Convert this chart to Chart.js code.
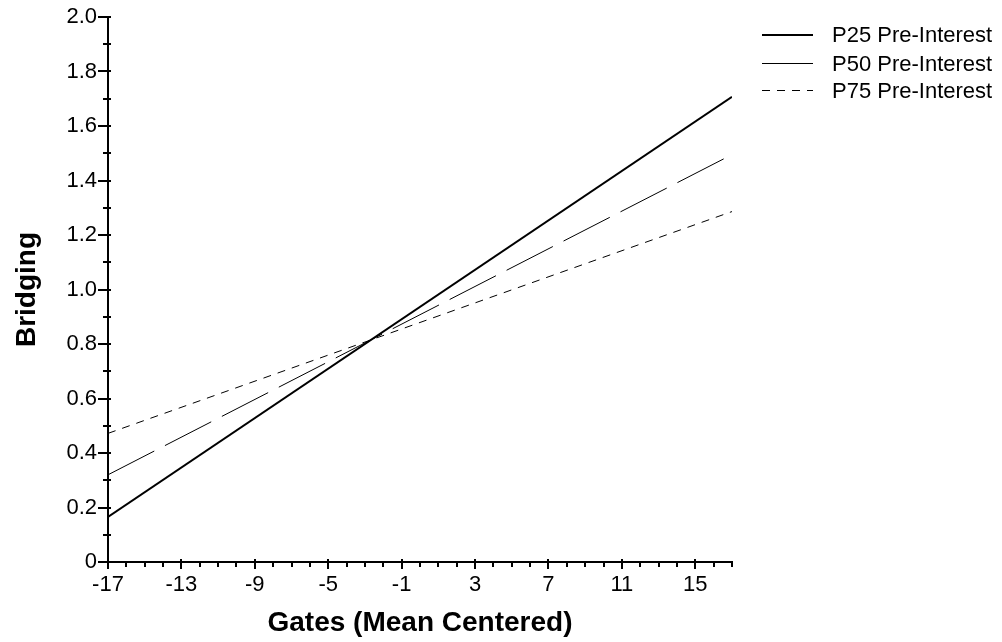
<!DOCTYPE html>
<html>
<head>
<meta charset="utf-8">
<script src="https://cdn.jsdelivr.net/npm/chart.js@4.4.1/dist/chart.umd.min.js"></script>
<style>
  html, body { margin: 0; padding: 0; background: #fff; }
  #wrap { width: 1002px; height: 642px; }
</style>
</head>
<body>
<div id="wrap"><canvas id="chart" width="1002" height="642"></canvas></div>
<script>
// Simple slopes of Bridging on Gates at three levels of pre-interest
const gates = [-17, 17];
const p25 = [0.165, 1.707];
const p50 = [0.320, 1.495];
const p75 = [0.472, 1.286];
const seriesNames = ['P25 Pre-Interest', 'P50 Pre-Interest', 'P75 Pre-Interest'];

const xTickValues = [-17, -13, -9, -5, -1, 3, 7, 11, 15];
const xTickLabels = ['-17', '-13', '-9', '-5', '-1', '3', '7', '11', '15'];
const yTickValues = [0, 0.2, 0.4, 0.6, 0.8, 1.0, 1.2, 1.4, 1.6, 1.8, 2.0];
const yTickLabels = ['0', '0.2', '0.4', '0.6', '0.8', '1.0', '1.2', '1.4', '1.6', '1.8', '2.0'];

const FONT = '"Liberation Sans", Arial, Helvetica, sans-serif';

const toPoints = ys => gates.map((g, i) => ({ x: g, y: ys[i] }));

// Minor tick marks every 1 on x and every 0.1 on y, longer marks at labelled values
const axisTicks = {
  id: 'axisTicks',
  afterDraw(chart) {
    const { ctx, chartArea, scales: { x, y } } = chart;
    ctx.save();
    ctx.strokeStyle = '#000';
    ctx.lineWidth = 2;
    ctx.lineCap = 'butt';
    ctx.beginPath();
    for (let k = 0; k <= 20; k++) {
      const v = k / 10;
      const py = Math.round(y.getPixelForValue(v));
      const major = k % 2 === 0;
      ctx.moveTo(chartArea.left - (major ? 10 : 5), py);
      ctx.lineTo(chartArea.left + 3, py);
    }
    for (let v = x.min; v <= x.max; v++) {
      const px = Math.round(x.getPixelForValue(v));
      const major = xTickValues.includes(v);
      ctx.moveTo(px, chartArea.bottom - (major ? 3 : 1));
      ctx.lineTo(px, chartArea.bottom + (major ? 7 : 5));
    }
    ctx.stroke();
    ctx.restore();
  }
};

// Legend: line sample followed by the series name, stacked at the top right
const lineLegend = {
  id: 'lineLegend',
  afterDraw(chart) {
    const { ctx, chartArea } = chart;
    const x0 = chartArea.right + 30;
    const sampleLen = 51;
    const rowTop = 35, rowStep = 27.5;
    ctx.save();
    ctx.font = '22px ' + FONT;
    ctx.fillStyle = '#000';
    ctx.textBaseline = 'middle';
    ctx.textAlign = 'left';
    chart.data.datasets.forEach((ds, i) => {
      const yy = Math.round(rowTop + i * rowStep) + (ds.borderWidth % 2 ? 0.5 : 0);
      ctx.strokeStyle = ds.borderColor;
      ctx.lineWidth = ds.borderWidth;
      ctx.setLineDash(ds.borderDash || []);
      ctx.beginPath();
      ctx.moveTo(x0, yy);
      ctx.lineTo(x0 + sampleLen, yy);
      ctx.stroke();
      ctx.setLineDash([]);
      ctx.fillText(ds.label, x0 + sampleLen + 19, yy + 1);
    });
    ctx.restore();
  }
};

new Chart(document.getElementById('chart'), {
  type: 'line',
  data: {
    datasets: [
      { label: seriesNames[0], data: toPoints(p25), borderColor: '#000', borderWidth: 2, borderDash: [] },
      { label: seriesNames[1], data: toPoints(p50), borderColor: '#000', borderWidth: 1, borderDash: [52, 12] },
      { label: seriesNames[2], data: toPoints(p75), borderColor: '#000', borderWidth: 1, borderDash: [8, 7] }
    ]
  },
  options: {
    responsive: false,
    animation: false,
    devicePixelRatio: 1,
    layout: { padding: { left: 0, right: 270, top: 17, bottom: 0 } },
    elements: {
      point: { radius: 0, hoverRadius: 0 },
      line: { tension: 0, fill: false, borderCapStyle: 'butt' }
    },
    plugins: {
      legend: { display: false },
      tooltip: { enabled: false }
    },
    scales: {
      x: {
        type: 'linear',
        min: -17,
        max: 17,
        grid: { display: false, drawTicks: false },
        border: { display: true, color: '#000', width: 2 },
        afterBuildTicks: s => { s.ticks = xTickValues.map(v => ({ value: v })); },
        afterFit: s => { s.height = 80; s.paddingLeft = 0; s.paddingRight = 0; },
        ticks: {
          autoSkip: false,
          maxRotation: 0,
          color: '#000',
          padding: 10,
          font: { family: FONT, size: 22 },
          callback: (v, i) => xTickLabels[i]
        },
        title: {
          display: true,
          text: 'Gates (Mean Centered)',
          color: '#000',
          font: { family: FONT, size: 28, weight: 'bold' },
          padding: { top: 0, bottom: 2 }
        }
      },
      y: {
        type: 'linear',
        min: 0,
        max: 2,
        grid: { display: false, drawTicks: false },
        border: { display: true, color: '#000', width: 2 },
        afterBuildTicks: s => { s.ticks = yTickValues.map(v => ({ value: v })); },
        afterFit: s => { s.width = 108; s.paddingTop = 0; s.paddingBottom = 0; },
        ticks: {
          autoSkip: false,
          color: '#000',
          padding: 11,
          font: { family: FONT, size: 22 },
          callback: (v, i) => yTickLabels[i]
        },
        title: {
          display: true,
          text: 'Bridging',
          color: '#000',
          font: { family: FONT, size: 28, weight: 'bold' },
          padding: { top: 10, bottom: 0 }
        }
      }
    }
  },
  plugins: [axisTicks, lineLegend]
});
</script>
</body>
</html>
